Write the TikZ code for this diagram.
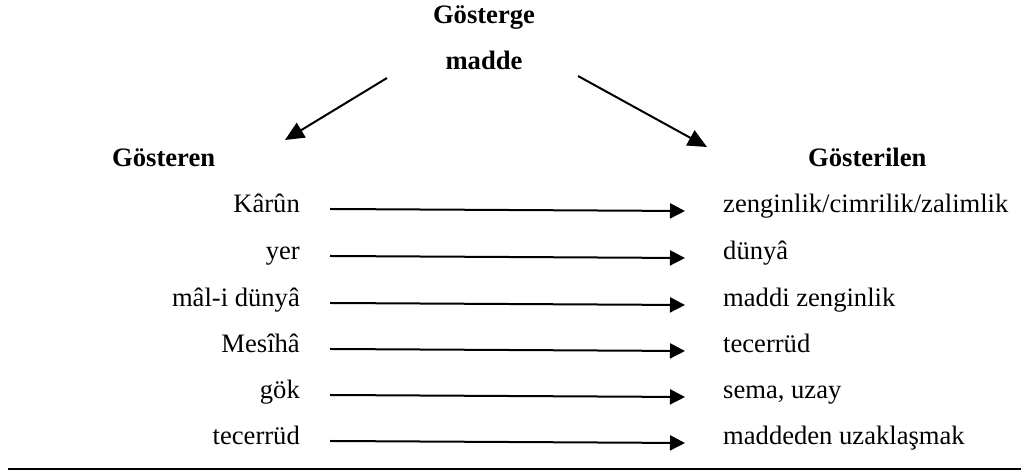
\documentclass[tikz,border=0pt]{standalone}
\usepackage{fontspec}
\setmainfont{Liberation Serif}
\usetikzlibrary{arrows.meta}
\tikzset{
  lbl/.style={inner sep=0pt, font=\fontsize{26.6}{32}\selectfont},
  head/.style={inner sep=0pt, font=\fontsize{26.6}{32}\selectfont\bfseries},
  arr/.style={line width=2pt, -{Triangle[length=15pt,width=15pt]}},
  diag/.style={line width=2pt, -{Triangle[length=19pt,width=17pt]}},
}
\begin{document}
\begin{tikzpicture}[x=1pt,y=1pt]
\useasboundingbox (0,0) rectangle (1021,470);
% headings
\node[head, anchor=base] (gosterge) at (484,446) {Gösterge};
\node[head, anchor=base] (madde) at (484,400) {madde};
\node[head, anchor=base west] (gosteren) at (112,303) {Gösteren};
\node[head, anchor=base west] (gosterilen) at (808,303) {Gösterilen};
\coordinate (dl) at (387,392);
\coordinate (tl) at (285,330);
\coordinate (dr) at (578,394);
\coordinate (tr) at (707,323);
\draw[diag] (dl) -- (tl);
\draw[diag] (dr) -- (tr);
% rows
\foreach \n/\a/\b/\y in {1/Kârûn/zenginlik\slash cimrilik\slash zalimlik/257,
    2/yer/dünyâ/210,
    3/mâl-i dünyâ/maddi zenginlik/163,
    4/Mesîhâ/tecerrüd/117,
    5/gök/{sema, uzay}/71,
    6/tecerrüd/maddeden uzaklaşmak/25}
{
  \node[lbl, anchor=base east] (l\n) at (300,\y) {\a};
  \node[lbl, anchor=base west] (r\n) at (723,\y) {\b};
  \draw[arr] ([xshift=30pt, yshift=4pt]l\n.base east) -- ([xshift=-38pt, yshift=2pt]r\n.base west);
}
\coordinate (ra) at (8,1);
\coordinate (rb) at (1021,1);
\draw[line width=1.5pt] (ra) -- (rb);
\end{tikzpicture}
\end{document}
